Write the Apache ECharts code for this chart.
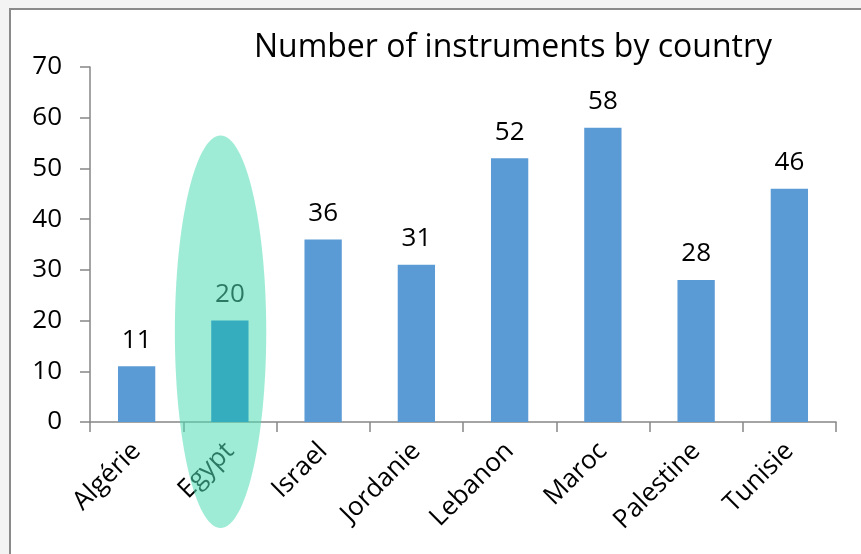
<!DOCTYPE html>
<html><head><meta charset="utf-8">
<script src="https://cdn.jsdelivr.net/npm/echarts@6/dist/echarts.min.js"></script>
<style>html,body{margin:0;padding:0;background:#f3f3f3;}#c{width:861px;height:554px;}</style>
</head><body><div id="c"></div>
<script>
const categories = ['Algérie','Egypt','Israel','Jordanie','Lebanon','Maroc','Palestine','Tunisie'];
const values = [11,20,36,31,52,58,28,46];
const yTicks = {min:0, max:70, interval:10};
const highlighted = 'Egypt';

const chart = echarts.init(document.getElementById('c'));
const font = 'Open Sans';
chart.setOption({
  animation:false,
  backgroundColor:'#f3f3f3',
  title:{text:'Number of instruments by country', left:508, top:27, textAlign:'center',
    textStyle:{fontFamily:font, fontSize:32, fontWeight:'normal', color:'#000'}},
  grid:{left:90, right:25, top:67, bottom:132},
  xAxis:{type:'category', data:categories,
    axisLine:{lineStyle:{color:'#868686', width:1.5}},
    axisTick:{show:true, length:10, lineStyle:{color:'#868686', width:1.5}},
    axisLabel:{rotate:45, fontFamily:font, fontSize:26, color:'#000', margin:25, interval:0}},
  yAxis:{type:'value', min:yTicks.min, max:yTicks.max, interval:yTicks.interval,
    axisLine:{show:true, lineStyle:{color:'#868686', width:1.5}},
    axisTick:{show:true, length:10, lineStyle:{color:'#868686', width:1.5}},
    splitLine:{show:false},
    axisLabel:{fontFamily:font, fontSize:26, color:'#000', margin:28}},
  series:[{type:'bar', data:values.map((v,i)=>({value:v, itemStyle:{color: categories[i]===highlighted ? '#1674cc' : '#5b9bd5'}})),
    barCategoryGap:'60%',
    label:{show:true, position:'top', distance:13, fontFamily:font, fontSize:26, color:'#000'}}]
});

const cx = chart.convertToPixel({xAxisIndex:0}, highlighted);
const yTop = chart.convertToPixel({yAxisIndex:0}, 56.5);
const y0 = chart.convertToPixel({yAxisIndex:0}, 0);
const catW = (chart.convertToPixel({xAxisIndex:0}, categories[1]) - chart.convertToPixel({xAxisIndex:0}, categories[0]));
const yBot = y0 + 106;
chart.setOption({graphic:[
  {type:'rect', z:-10, shape:{x:10, y:9, width:900, height:600}, style:{fill:'#fff', stroke:'#8a8a8a', lineWidth:2}, silent:true},
  {type:'ellipse', z:100, shape:{cx:cx - catW*0.1, cy:(yTop+yBot)/2, rx:catW*0.49, ry:(yBot-yTop)/2},
   style:{fill:'rgba(80,220,180,0.55)'}, silent:true}
]});
</script></body></html>
